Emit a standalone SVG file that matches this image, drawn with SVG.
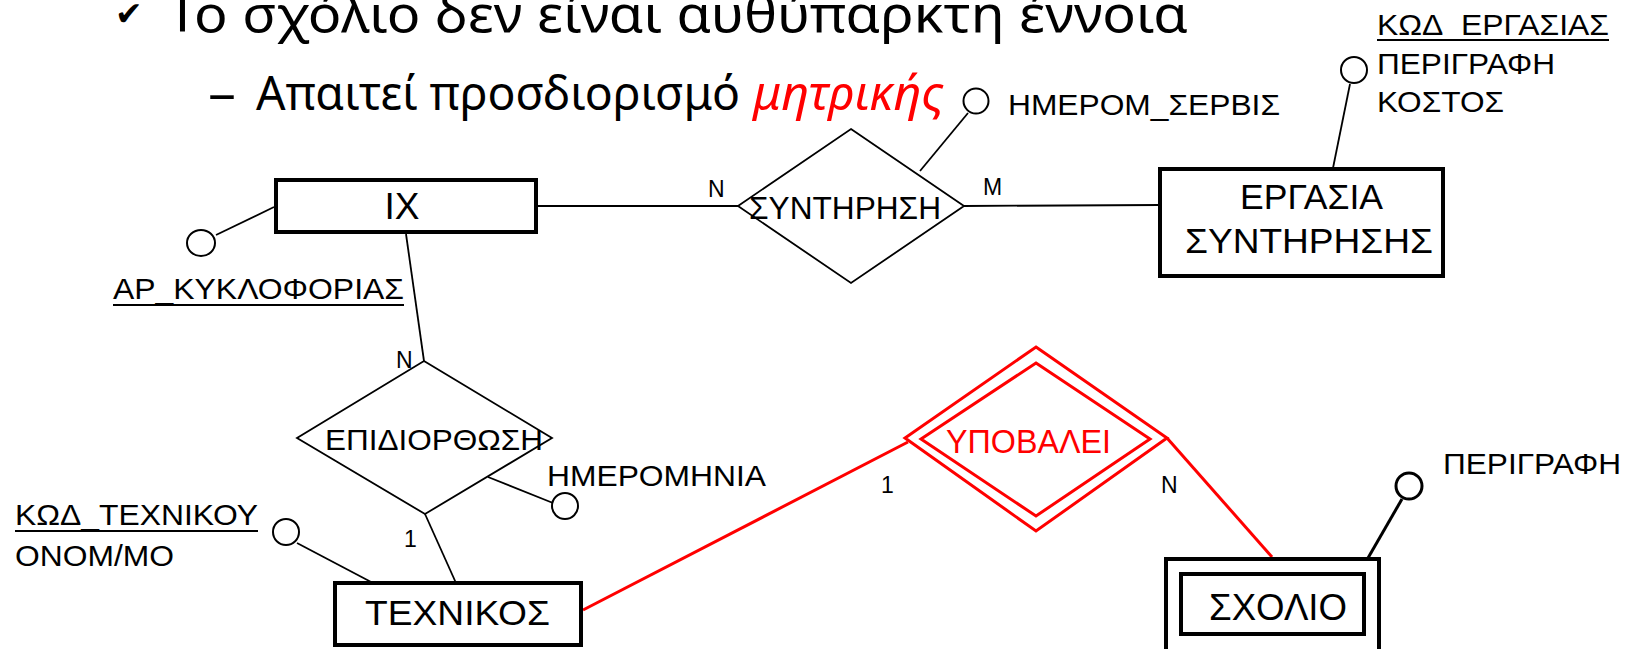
<svg xmlns="http://www.w3.org/2000/svg" width="1634" height="649" viewBox="0 0 1634 649">
<defs>
<style>
.t{font-family:"Liberation Sans",Arial,sans-serif;fill:#000}
.h{font-family:"Noto Sans","Open Sans",sans-serif;fill:#000}
.ent{fill:#fff;stroke:#000;stroke-width:4}
.rel{fill:#fff;stroke:#000;stroke-width:1.8}
.att{fill:#fff;stroke:#000;stroke-width:2}
.ln{stroke:#000;stroke-width:1.8;fill:none}
.red{stroke:#f00;stroke-width:3;fill:none}
.redf{fill:#fff;stroke:#f00;stroke-width:3}
</style>
</defs>
<rect width="1634" height="649" fill="#fff"/>
<g id="heading">
<text x="115" y="25" font-size="33" font-weight="bold" style="font-family:'DejaVu Sans',sans-serif;fill:#000">✔</text>
<text class="h" x="167" y="32" font-size="51" textLength="1021" lengthAdjust="spacingAndGlyphs">Το σχόλιο δεν είναι αυθύπαρκτη έννοια</text>
<text class="h" x="208" y="110" font-size="48" textLength="28" lengthAdjust="spacingAndGlyphs">–</text>
<text class="h" x="256" y="110" font-size="48" textLength="484" lengthAdjust="spacingAndGlyphs">Απαιτεί προσδιορισμό</text>
<text class="h" x="753" y="110" font-size="48" font-style="italic" style="fill:#f00" textLength="191" lengthAdjust="spacingAndGlyphs">μητρικής</text>
</g>
<g id="connectors">
<line class="ln" x1="538" y1="206" x2="738" y2="206"/>
<line class="ln" x1="964" y1="206" x2="1160" y2="205"/>
<line class="ln" x1="968" y1="113" x2="920" y2="171"/>
<line class="ln" x1="1350" y1="84" x2="1333" y2="168"/>
<line class="ln" x1="216" y1="235" x2="274" y2="207"/>
<line class="ln" x1="406" y1="234" x2="424" y2="361"/>
<line class="ln" x1="488" y1="477" x2="553" y2="503"/>
<line class="ln" x1="425" y1="514" x2="456" y2="583"/>
<line class="ln" x1="297" y1="543" x2="373" y2="583"/>
<line class="red" x1="583" y1="610" x2="908" y2="442"/>
<line class="red" x1="1167" y1="438" x2="1272" y2="557"/>
<line class="ln" style="stroke-width:3" x1="1402" y1="499" x2="1368" y2="558"/>
</g>
<g id="cardinalities">
<text class="t" x="708" y="197" font-size="23">N</text>
<text class="t" x="983" y="195" font-size="23">M</text>
<text class="t" x="396" y="368" font-size="23">N</text>
<text class="t" x="404" y="547" font-size="23">1</text>
<text class="t" x="881" y="493" font-size="23">1</text>
<text class="t" x="1161" y="493" font-size="23">N</text>
</g>
<g id="ix">
<rect class="ent" x="276" y="180" width="260" height="52"/>
<text class="t" x="402" y="219" font-size="37" text-anchor="middle">IX</text>
</g>
<g id="syntirisi">
<polygon class="rel" points="851,129 964,206 851,283 738,206"/>
<text class="t" x="749" y="219" font-size="31" textLength="192" lengthAdjust="spacingAndGlyphs">ΣΥΝΤΗΡΗΣΗ</text>
</g>
<g id="ergasia">
<rect class="ent" x="1160" y="169" width="283" height="107"/>
<text class="t" x="1240" y="209" font-size="35" textLength="143" lengthAdjust="spacingAndGlyphs">ΕΡΓΑΣΙΑ</text>
<text class="t" x="1185" y="253" font-size="35" textLength="248" lengthAdjust="spacingAndGlyphs">ΣΥΝΤΗΡΗΣΗΣ</text>
</g>
<g id="epidiorthosi">
<polygon class="rel" points="424,361 552,438 425,514 297,438"/>
<text class="t" x="325" y="450" font-size="30" textLength="218" lengthAdjust="spacingAndGlyphs">ΕΠΙΔΙΟΡΘΩΣΗ</text>
</g>
<g id="texnikos">
<rect class="ent" x="335" y="583" width="246" height="62"/>
<text class="t" x="365" y="625" font-size="35" textLength="185" lengthAdjust="spacingAndGlyphs">ΤΕΧΝΙΚΟΣ</text>
</g>
<g id="ypovalei">
<polygon class="redf" points="1036,347 1167,438 1036,531 905,438"/>
<polygon class="redf" points="1036,363 1150,439 1036,516 921,439"/>
<text class="t" x="946" y="453" font-size="33" style="fill:#f00" textLength="165" lengthAdjust="spacingAndGlyphs">ΥΠΟΒΑΛΕΙ</text>
</g>
<g id="sxolio">
<rect class="ent" x="1166" y="559" width="213" height="110"/>
<rect class="ent" x="1181" y="574" width="183" height="60"/>
<text class="t" x="1209" y="620" font-size="37" textLength="138" lengthAdjust="spacingAndGlyphs">ΣΧΟΛΙΟ</text>
</g>
<g id="attr-hmerom-servis">
<circle class="att" cx="976" cy="101" r="12.5"/>
<text class="t" x="1008" y="115" font-size="30" textLength="272" lengthAdjust="spacingAndGlyphs">ΗΜΕΡΟΜ_ΣΕΡΒΙΣ</text>
</g>
<g id="attr-ergasia">
<circle class="att" cx="1354" cy="70" r="13"/>
<text class="t" x="1377" y="35" font-size="30" textLength="232" lengthAdjust="spacingAndGlyphs">ΚΩΔ_ΕΡΓΑΣΙΑΣ</text>
<line class="ln" x1="1377" y1="40" x2="1609" y2="40"/>
<text class="t" x="1377" y="74" font-size="30" textLength="178" lengthAdjust="spacingAndGlyphs">ΠΕΡΙΓΡΑΦΗ</text>
<text class="t" x="1377" y="112" font-size="30" textLength="127" lengthAdjust="spacingAndGlyphs">ΚΟΣΤΟΣ</text>
</g>
<g id="attr-ar-kykloforias">
<ellipse class="att" cx="201" cy="243" rx="14" ry="13"/>
<text class="t" x="113" y="299" font-size="30" textLength="291" lengthAdjust="spacingAndGlyphs">ΑΡ_ΚΥΚΛΟΦΟΡΙΑΣ</text>
<line class="ln" x1="113" y1="305" x2="404" y2="305"/>
</g>
<g id="attr-hmerominia">
<circle class="att" cx="565" cy="506" r="13"/>
<text class="t" x="547" y="486" font-size="30" textLength="219" lengthAdjust="spacingAndGlyphs">ΗΜΕΡΟΜΗΝΙΑ</text>
</g>
<g id="attr-texnikos">
<circle class="att" cx="286" cy="532" r="13"/>
<text class="t" x="15" y="525" font-size="30" textLength="243" lengthAdjust="spacingAndGlyphs">ΚΩΔ_ΤΕΧΝΙΚΟΥ</text>
<line class="ln" x1="15" y1="531" x2="258" y2="531"/>
<text class="t" x="15" y="566" font-size="30" textLength="159" lengthAdjust="spacingAndGlyphs">ΟΝΟΜ/ΜΟ</text>
</g>
<g id="attr-sxolio">
<circle class="att" style="stroke-width:3" cx="1409" cy="486" r="13"/>
<text class="t" x="1443" y="474" font-size="30" textLength="178" lengthAdjust="spacingAndGlyphs">ΠΕΡΙΓΡΑΦΗ</text>
</g>
</svg>
